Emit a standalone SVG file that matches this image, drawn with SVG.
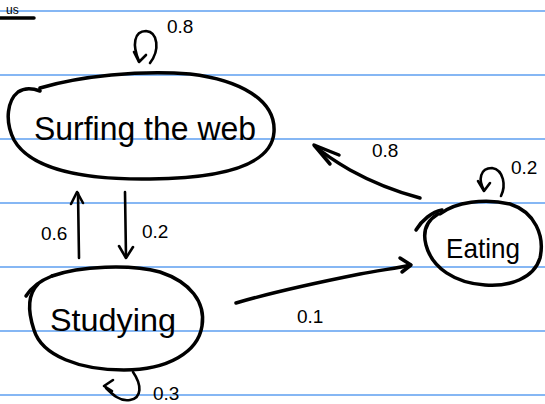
<svg xmlns="http://www.w3.org/2000/svg" width="545" height="404" viewBox="0 0 545 404">
  <style>
    .rule { stroke: #5e9ff0; stroke-width: 1.6; }
    .ink { fill: none; stroke: #000; stroke-width: 3.5; stroke-linecap: round; stroke-linejoin: round; }
    .thin { fill: none; stroke: #000; stroke-width: 2.6; stroke-linecap: round; stroke-linejoin: round; }
    .name { font-family: "Liberation Sans", "DejaVu Sans", sans-serif; fill: #000; }
    .prob { font-family: "Liberation Sans", "DejaVu Sans", sans-serif; fill: #000; font-size: 19px; }
  </style>

  <rect width="545" height="404" fill="#fff"/>

  <!-- ruled paper -->
  <g id="paper">
    <line class="rule" x1="0" y1="11" x2="545" y2="11"/>
    <line class="rule" x1="0" y1="75" x2="545" y2="75"/>
    <line class="rule" x1="0" y1="139" x2="545" y2="139"/>
    <line class="rule" x1="0" y1="203" x2="545" y2="203"/>
    <line class="rule" x1="0" y1="267" x2="545" y2="267"/>
    <line class="rule" x1="0" y1="331" x2="545" y2="331"/>
    <line class="rule" x1="0" y1="395" x2="545" y2="395"/>
    <text class="name" x="6" y="14" font-size="12">us</text>
    <line class="ink" x1="0" y1="18" x2="34" y2="18"/>
  </g>

  <!-- states -->
  <g id="surfing">
    <path class="ink" d="M40,88 C80,76 140,70 190,74 C240,80 276,100 274,132 C272,162 232,178 150,179 C80,180 30,168 14,140 C4,120 8,100 18,92 C24,88 32,88 40,91"/>
    <text class="name" x="34" y="140" font-size="33" textLength="222" lengthAdjust="spacingAndGlyphs">Surfing the web</text>
  </g>

  <g id="studying">
    <path class="ink" d="M52,276 C80,266 130,264 160,272 C190,282 206,302 202,326 C198,352 168,370 124,370 C80,370 42,356 34,330 C26,306 30,292 38,284"/>
    <path class="ink" d="M26,296 C32,286 42,280 52,276"/>
    <text class="name" x="50" y="331" font-size="32" textLength="126" lengthAdjust="spacingAndGlyphs">Studying</text>
  </g>

  <g id="eating">
    <path class="ink" d="M440,214 C455,202 485,198 510,204 C535,212 545,236 540,258 C534,278 510,287 485,285 C455,283 432,268 426,245 C422,230 428,220 438,214"/>
    <path class="ink" d="M416,230 C422,220 432,212 442,210"/>
    <text class="name" x="446" y="258" font-size="28" textLength="74" lengthAdjust="spacingAndGlyphs">Eating</text>
  </g>

  <!-- transitions -->
  <g id="connectors">
    <!-- Surfing self-loop -->
    <path class="thin" d="M150,63 C160,50 158,32 146,31 C134,31 132,45 139,61"/>
    <path class="thin" d="M134,52 L139,62 L146,55"/>
    <!-- Studying -> Surfing -->
    <path class="thin" d="M79,258 L78,193"/>
    <path class="thin" d="M71,204 L77,192 L83,203"/>
    <!-- Surfing -> Studying -->
    <path class="thin" d="M125,192 L126,257"/>
    <path class="thin" d="M119,246 L126,258 L133,247"/>
    <!-- Studying self-loop -->
    <path class="thin" d="M133,372 C142,385 142,398 130,400 C120,402 112,394 106,388"/>
    <path class="thin" d="M113,380 L104,386 L112,391"/>
    <!-- Studying -> Eating -->
    <path class="ink" d="M236,303 C280,290 330,280 360,274 C380,270 400,268 410,265"/>
    <path class="ink" d="M400,258 L411,265 L402,272"/>
    <!-- Eating -> Surfing -->
    <path class="ink" d="M420,198 C390,190 368,180 350,170 C338,163 325,155 315,146"/>
    <path class="ink" d="M339,155 L314,145 L330,164"/>
    <!-- Eating self-loop -->
    <path class="thin" d="M501,196 C506,186 504,170 492,168 C480,168 478,180 484,190"/>
    <path class="thin" d="M478,181 L484,191 L490,183"/>
  </g>

  <!-- probabilities -->
  <g id="labels">
    <text class="prob" x="167" y="33">0.8</text>
    <text class="prob" x="41" y="240">0.6</text>
    <text class="prob" x="142" y="238">0.2</text>
    <text class="prob" x="153" y="400" font-size="17">0.3</text>
    <text class="prob" x="297" y="323">0.1</text>
    <text class="prob" x="372" y="157">0.8</text>
    <text class="prob" x="511" y="174">0.2</text>
  </g>
</svg>
